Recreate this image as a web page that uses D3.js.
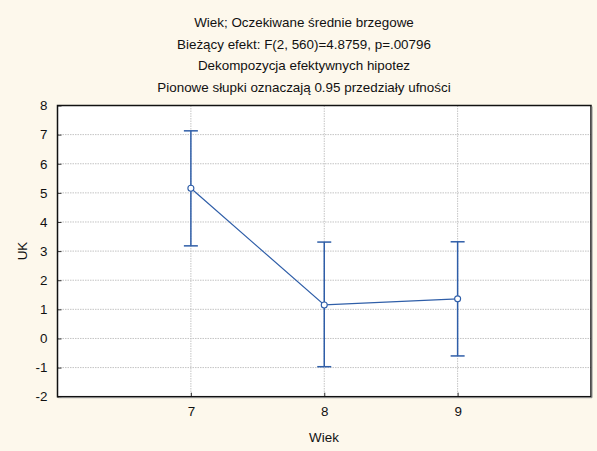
<!DOCTYPE html>
<html><head><meta charset="utf-8">
<script src="https://cdn.jsdelivr.net/npm/d3@7"></script>
<style>body{margin:0;background:#fdf8ec;} svg{display:block;}</style>
</head><body>
<svg id="c" width="597" height="451"></svg>
<script>
const titles = ["Wiek; Oczekiwane średnie brzegowe","Bieżący efekt: F(2, 560)=4.8759, p=.00796","Dekompozycja efektywnych hipotez","Pionowe słupki oznaczają 0.95 przedziały ufności"];
const categories = [7, 8, 9];
const means = [5.16, 1.15, 1.36];
const upper = [7.13, 3.31, 3.32];
const lower = [3.18, -0.97, -0.6];
const yTicks = [-2,-1,0,1,2,3,4,5,6,7,8];

const svg = d3.select("#c");
const font = "Liberation Sans, Arial, sans-serif";
const fs = 13.4;
const m = {l:57.5, r:591, t:105.5, b:396.7};
const x = d3.scaleLinear().domain([6,10]).range([m.l, m.r]);
const y = d3.scaleLinear().domain([-2,8]).range([m.b, m.t]);

svg.append("rect").attr("width",597).attr("height",451).attr("fill","#fdf8ec");
svg.append("rect").attr("x",m.l).attr("y",m.t).attr("width",m.r-m.l).attr("height",m.b-m.t).attr("fill","#fff");

// grid
svg.selectAll(".gy").data(yTicks.filter(d=>d>-2&&d<8)).enter().append("line")
  .attr("x1",m.l).attr("x2",m.r).attr("y1",d=>y(d)).attr("y2",d=>y(d))
  .attr("stroke","#c4c4c4").attr("stroke-width",1).attr("stroke-dasharray","1.5,1");
svg.selectAll(".gx").data(categories).enter().append("line")
  .attr("x1",d=>x(d)).attr("x2",d=>x(d)).attr("y1",m.t).attr("y2",m.b)
  .attr("stroke","#c4c4c4").attr("stroke-width",1).attr("stroke-dasharray","1.5,1");

// axes
const fmt = d => String(d);
const yAxis = d3.axisLeft(y).tickValues(yTicks).tickSize(-4).tickPadding(10).tickFormat(fmt);
const gy = svg.append("g").attr("transform",`translate(${m.l},0)`).call(yAxis);
gy.select(".domain").remove();
gy.selectAll("line").attr("stroke","#333");
gy.selectAll("text").attr("font-family",font).attr("font-size",fs).attr("fill","#111");

const xAxis = d3.axisBottom(x).tickValues(categories).tickSize(-4).tickPadding(10).tickFormat(fmt);
const gx = svg.append("g").attr("transform",`translate(0,${m.b})`).call(xAxis);
gx.select(".domain").remove();
gx.selectAll("line").attr("stroke","#333");
gx.selectAll("text").attr("font-family",font).attr("font-size",fs).attr("fill","#111");

// frame
svg.append("rect").attr("x",m.l).attr("y",m.t).attr("width",m.r-m.l).attr("height",m.b-m.t)
  .attr("fill","none").attr("stroke","#111").attr("stroke-width",1.5);
svg.append("line").attr("x1",m.r+1).attr("x2",m.r+1).attr("y1",m.t+1).attr("y2",m.b+1).attr("stroke","#888").attr("stroke-width",1);
svg.append("line").attr("x1",m.l+1).attr("x2",m.r+1).attr("y1",m.b+1).attr("y2",m.b+1).attr("stroke","#888").attr("stroke-width",1);

// error bars
const col = "#2f5ea8";
const eb = svg.selectAll(".eb").data(categories).enter().append("g");
eb.append("line").attr("x1",d=>x(d)).attr("x2",d=>x(d)).attr("y1",(d,i)=>y(upper[i])).attr("y2",(d,i)=>y(lower[i]))
  .attr("stroke",col).attr("stroke-width",1.5);
eb.append("line").attr("x1",d=>x(d)-7).attr("x2",d=>x(d)+7).attr("y1",(d,i)=>y(upper[i])).attr("y2",(d,i)=>y(upper[i]))
  .attr("stroke",col).attr("stroke-width",1.5);
eb.append("line").attr("x1",d=>x(d)-7).attr("x2",d=>x(d)+7).attr("y1",(d,i)=>y(lower[i])).attr("y2",(d,i)=>y(lower[i]))
  .attr("stroke",col).attr("stroke-width",1.5);

// line
svg.append("path").datum(categories.map((c,i)=>[c,means[i]]))
  .attr("d",d3.line().x(d=>x(d[0])).y(d=>y(d[1])))
  .attr("fill","none").attr("stroke",col).attr("stroke-width",1.2);
svg.selectAll(".pt").data(categories).enter().append("circle")
  .attr("cx",d=>x(d)).attr("cy",(d,i)=>y(means[i])).attr("r",3)
  .attr("fill","#fff").attr("stroke",col).attr("stroke-width",1.1);

// titles
svg.selectAll(".t").data(titles).enter().append("text")
  .attr("x",304).attr("y",(d,i)=>27+i*21.7).attr("text-anchor","middle")
  .attr("font-family",font).attr("font-size",fs).attr("fill","#111").text(d=>d);

svg.append("text").attr("x",324).attr("y",442).attr("text-anchor","middle")
  .attr("font-family",font).attr("font-size",fs).attr("fill","#111").text("Wiek");
svg.append("text").attr("transform","translate(27,251) rotate(-90)").attr("text-anchor","middle")
  .attr("font-family",font).attr("font-size",fs).attr("fill","#111").text("UK");
</script>
</body></html>
